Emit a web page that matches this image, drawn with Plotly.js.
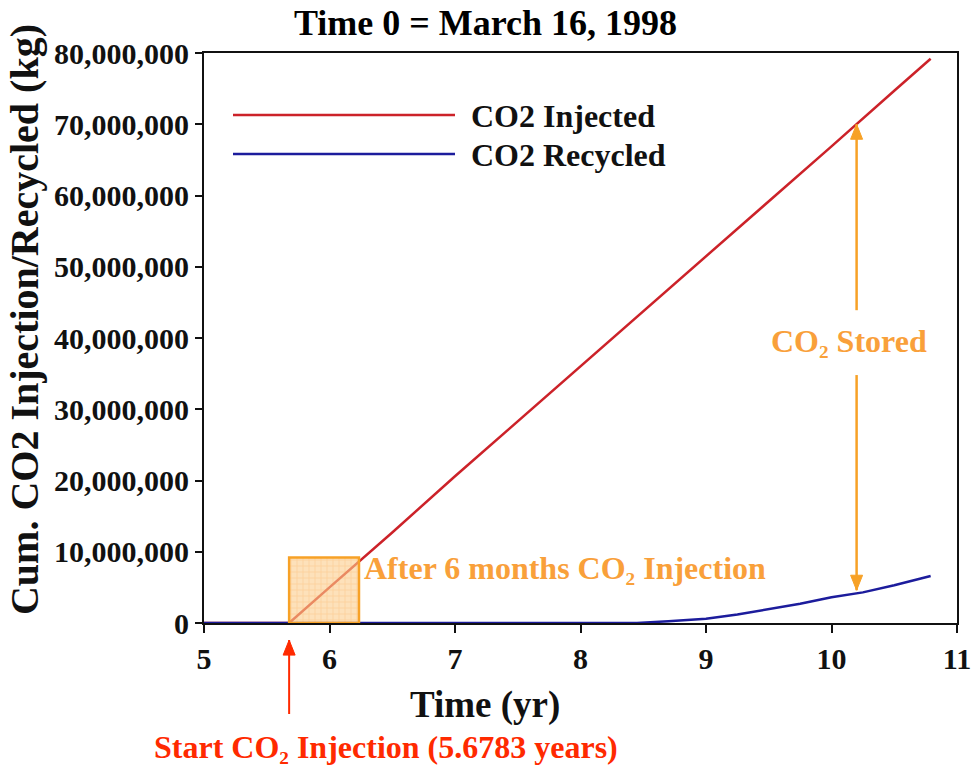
<!DOCTYPE html>
<html>
<head>
<meta charset="utf-8">
<script src="https://cdn.plot.ly/plotly-3.0.1.min.js"></script>
<style>html,body{margin:0;padding:0;background:#fff;}#chart{width:971px;height:771px;}</style>
</head>
<body>
<div id="chart"></div>
<script>
// ---- data ----
var seriesNames = ['CO2 Injected', 'CO2 Recycled'];
var timeInjected = [5.0, 5.6783, 6.0, 6.5, 7.0, 7.5, 8.0, 8.5, 9.0, 9.5, 10.0, 10.5, 10.79];
var cumInjected  = [0, 0, 5.0e6, 12.7e6, 20.6e6, 28.3e6, 36.1e6, 43.8e6, 51.5e6, 59.2e6, 66.9e6, 74.7e6, 79.2e6];
var timeRecycled = [5.0, 8.45, 8.7, 9.0, 9.25, 9.5, 9.75, 10.0, 10.25, 10.5, 10.79];
var cumRecycled  = [0, 0, 0.25e6, 0.6e6, 1.2e6, 1.9e6, 2.7e6, 3.6e6, 4.3e6, 5.3e6, 6.6e6];
var injectionStart = 5.6783;
var windowX = [5.6783, 6.235, 6.235, 5.6783, 5.6783];   // 6-month highlight box
var windowY = [0, 0, 9.2e6, 9.2e6, 0];
var storedAtTime = 10.2;
var storedTop = 70.0e6, storedBottom = 4.6e6;
var storedLabelY = 39.6e6, storedGapTop = 43.9e6, storedGapBottom = 34.8e6;
var xTicks = [5, 6, 7, 8, 9, 10, 11];
var yTicks = [0, 10e6, 20e6, 30e6, 40e6, 50e6, 60e6, 70e6, 80e6];
var yTickText = ['0', '10,000,000', '20,000,000', '30,000,000', '40,000,000', '50,000,000', '60,000,000', '70,000,000', '80,000,000'];

var serif = 'Liberation Serif, Times New Roman, serif';
var redC = '#cc2229', blueC = '#1c1c9c', orange = '#f7a126', orangeTxt = '#f9a03a', startRed = '#ff2a00';

var traces = [
  {x: timeInjected, y: cumInjected, name: seriesNames[0], mode: 'lines', line: {color: redC, width: 2.5}, showlegend: false},
  {x: timeRecycled, y: cumRecycled, name: seriesNames[1], mode: 'lines', line: {color: blueC, width: 2.5}, showlegend: false},
  {x: windowX, y: windowY, mode: 'lines', fill: 'toself', fillcolor: 'rgba(252,196,120,0.6)',
   fillpattern: {shape: '+', fgcolor: 'rgba(247,160,60,0.5)', bgcolor: 'rgba(252,205,140,0.6)', size: 6, solidity: 0.12},
   line: {color: orange, width: 2.5}, showlegend: false, hoverinfo: 'skip'}
];

var annotations = [
  {text: '<b>Cum. CO2 Injection/Recycled (kg)</b>', xref: 'paper', yref: 'paper', x: -0.239, y: (623 - 320) / 570, xanchor: 'center', yanchor: 'middle',
   textangle: -90, showarrow: false, font: {family: serif, size: 40, color: '#111'}},
  {text: '<b>Time (yr)</b>', xref: 'paper', yref: 'paper', x: (485 - 204) / 753, y: -(705 - 623) / 570, xanchor: 'center', yanchor: 'middle',
   showarrow: false, font: {family: serif, size: 37, color: '#111'}},
  // legend texts
  {text: '<b>' + seriesNames[0] + '</b>', xref: 'paper', yref: 'paper', x: (469 - 204) / 753, y: (623 - 116) / 570, xanchor: 'left', yanchor: 'middle',
   showarrow: false, font: {family: serif, size: 32, color: '#111'}},
  {text: '<b>' + seriesNames[1] + '</b>', xref: 'paper', yref: 'paper', x: (469 - 204) / 753, y: (623 - 155) / 570, xanchor: 'left', yanchor: 'middle',
   showarrow: false, font: {family: serif, size: 32, color: '#111'}},
  // 6-month label
  {text: '<b>After 6 months CO\u2082 Injection</b>', xref: 'x', yref: 'y', x: 6.24, y: 7.65e6, xanchor: 'left', yanchor: 'middle', xshift: 2,
   showarrow: false, font: {family: serif, size: 32, color: orangeTxt}},
  // stored label
  {text: '<b>CO\u2082 Stored</b>', xref: 'x', yref: 'y', x: storedAtTime, y: storedLabelY, xanchor: 'center', yanchor: 'middle', xshift: -8,
   showarrow: false, font: {family: serif, size: 32, color: orangeTxt}},
  // start injection label
  {text: '<b>Start CO\u2082 Injection (5.6783 years)</b>', xref: 'paper', yref: 'paper', x: (386 - 204) / 753, y: -(747 - 623) / 570,
   xanchor: 'center', yanchor: 'middle', showarrow: false, font: {family: serif, size: 32, color: startRed}}
];

function headUp(xr, yr, x, y, col) {
  return {type: 'path', xref: xr, yref: yr, xsizemode: 'pixel', ysizemode: 'pixel', xanchor: x, yanchor: y,
          path: 'M 0 0 L -6 -15 L 6 -15 Z', fillcolor: col, line: {color: col, width: 1}, layer: 'above'};
}
function headDown(xr, yr, x, y, col) {
  return {type: 'path', xref: xr, yref: yr, xsizemode: 'pixel', ysizemode: 'pixel', xanchor: x, yanchor: y,
          path: 'M 0 0 L -6 15 L 6 15 Z', fillcolor: col, line: {color: col, width: 1}, layer: 'above'};
}

var startArrowTop = -0.03, startArrowBottom = -(714 - 623) / 570;

var shapes = [
  // legend lines
  {type: 'line', xref: 'paper', yref: 'paper', x0: (233 - 204) / 753, x1: (455 - 204) / 753, y0: (623 - 115) / 570, y1: (623 - 115) / 570,
   line: {color: redC, width: 2.5}},
  {type: 'line', xref: 'paper', yref: 'paper', x0: (233 - 204) / 753, x1: (455 - 204) / 753, y0: (623 - 154) / 570, y1: (623 - 154) / 570,
   line: {color: blueC, width: 2.5}},
  // CO2 stored double arrow (split around the label)
  {type: 'line', xref: 'x', yref: 'y', x0: storedAtTime, x1: storedAtTime, y0: storedGapTop, y1: storedTop, line: {color: orange, width: 2.5}},
  {type: 'line', xref: 'x', yref: 'y', x0: storedAtTime, x1: storedAtTime, y0: storedGapBottom, y1: storedBottom, line: {color: orange, width: 2.5}},
  headUp('x', 'y', storedAtTime, storedTop, orange),
  headDown('x', 'y', storedAtTime, storedBottom, orange),
  // start-of-injection arrow below the axis
  {type: 'line', xref: 'x', yref: 'paper', x0: injectionStart, x1: injectionStart, y0: startArrowBottom, y1: startArrowTop,
   line: {color: startRed, width: 2}},
  headUp('x', 'paper', injectionStart, startArrowTop, startRed)
];

var layout = {
  width: 971, height: 771,
  margin: {l: 204, r: 14, t: 53, b: 148},
  paper_bgcolor: '#fff', plot_bgcolor: '#fff',
  title: {text: '<b>Time 0 = March 16, 1998</b>', x: 0.5, xref: 'container', xanchor: 'center', y: 1 - 22 / 771, yanchor: 'middle',
          font: {family: serif, size: 36, color: '#000'}},
  xaxis: {range: [5, 11], tickvals: xTicks, ticks: 'outside', ticklen: 8, tickwidth: 2, tickcolor: '#111',
          showline: true, linecolor: '#111', linewidth: 2, mirror: true, showgrid: false, zeroline: false,
          ticklabeloverflow: 'allow', automargin: false,
          tickfont: {family: serif, size: 30, color: '#111', weight: 'bold'}},
  yaxis: {range: [0, 80e6], tickvals: yTicks, ticktext: yTickText, ticks: 'outside', ticklen: 7, tickwidth: 2, tickcolor: '#111',
          showline: true, linecolor: '#111', linewidth: 2, mirror: true, showgrid: false, zeroline: false,
          automargin: false,
          tickfont: {family: serif, size: 30, color: '#111', weight: 'bold'}},
  annotations: annotations,
  shapes: shapes,
  showlegend: false
};

Plotly.newPlot('chart', traces, layout, {displayModeBar: false, staticPlot: true});
</script>
</body>
</html>
